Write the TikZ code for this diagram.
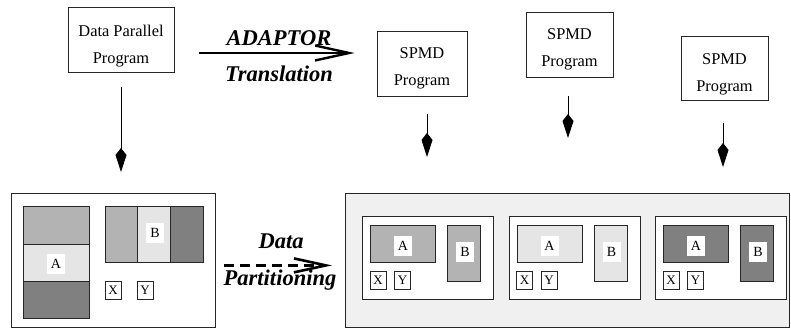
\documentclass[tikz,border=0pt]{standalone}
\usepackage{fontspec}
\setmainfont{Liberation Serif}
\usetikzlibrary{arrows.meta,calc}
\definecolor{midg}{HTML}{B3B3B3}
\definecolor{lightg}{HTML}{E5E5E5}
\definecolor{darkg}{HTML}{808080}
\definecolor{bgg}{HTML}{F0F0F0}
\begin{document}
\begin{tikzpicture}[x=1pt,y=-1pt,
  box/.style={draw=black!85, line width=0.8pt, inner sep=0pt},
  prog/.style={box, fill=white},
  ptext/.style={align=center, inner sep=0pt, anchor=north, font=\fontsize{16.4}{27}\selectfont},
  lbl/.style={fill=white, inner sep=0pt, minimum width=18, minimum height=20, font=\fontsize{14}{16}\selectfont},
  xy/.style={box, fill=white, minimum width=16, minimum height=18, font=\fontsize{13}{15}\selectfont},
  big/.style={font=\fontsize{22.5}{26}\selectfont\bfseries\itshape, inner sep=0pt, anchor=base},
  darr/.style={line width=0.9pt, -{Kite[length=24pt,width=11pt,inset=7pt]}},
  barb/.style={line width=2.4pt, -{Straight Barb[length=34pt,width=15pt,line width=2.4pt]}},
  dbarb/.style={line width=2.6pt, dash pattern=on 10pt off 6pt, -{Straight Barb[length=32pt,width=14pt,line width=2.6pt]}},
]
\useasboundingbox (0,0) rectangle (791,328);

% top program boxes
\node[prog, minimum width=106, minimum height=65] (dp) at (121,39.5) {};
\node[ptext] (dpt) at (121,24.5) {Data Parallel\\Program};
\node[prog, minimum width=90, minimum height=65] (s1) at (422,63.5) {};
\node[ptext] (s1t) at (422,47.2) {SPMD\\Program};
\node[prog, minimum width=87, minimum height=65] (s2) at (569.5,44.5) {};
\node[ptext] (s2t) at (569.5,28.2) {SPMD\\Program};
\node[prog, minimum width=87, minimum height=64] (s3) at (724.5,68) {};
\node[ptext] (s3t) at (724.5,53.2) {SPMD\\Program};

% left box
\node[box, fill=white, anchor=north west, minimum width=204, minimum height=134] (L) at (11,193) {};
\node[box, fill=midg, anchor=north west, minimum width=66, minimum height=38] (la1) at (23,206) {};
\node[box, fill=lightg, anchor=north west, minimum width=66, minimum height=37] (la2) at (23,244) {};
\node[box, fill=darkg, anchor=north west, minimum width=66, minimum height=37] (la3) at (23,281) {};
\node[lbl] (lal) at (56,264) {A};
\node[box, fill=midg, anchor=north west, minimum width=32, minimum height=56] (lb1) at (105,206) {};
\node[box, fill=lightg, anchor=north west, minimum width=33, minimum height=56] (lb2) at (137,206) {};
\node[box, fill=darkg, anchor=north west, minimum width=33, minimum height=56] (lb3) at (170,206) {};
\node[lbl] (lbl) at (155,233) {B};
\node[xy] (lx) at (113,290.5) {X};
\node[xy] (ly) at (145,290.5) {Y};

% right box
\node[box, fill=bgg, anchor=north west, minimum width=444, minimum height=134] (R) at (345,193) {};
\foreach \k/\c in {0/midg,1/lightg,2/darkg} {
  \pgfmathsetmacro\xo{362+146.5*\k}
  \node[box, fill=white, anchor=north west, minimum width=131, minimum height=83] (sub\k) at (\xo,216) {};
  \node[box, fill=\c, anchor=north west, minimum width=65, minimum height=37] (sa\k) at (\xo+8,225) {};
  \node[box, fill=\c, anchor=north west, minimum width=33, minimum height=56] (sb\k) at (\xo+85,225) {};
  \node[lbl] (sal\k) at (\xo+41,246) {A};
  \node[lbl] (sbl\k) at (\xo+103,252) {B};
  \node[xy] (sx\k) at (\xo+16,280.5) {X};
  \node[xy] (sy\k) at (\xo+40.5,280.5) {Y};
}

% arrows
\draw[barb, shorten <=25pt, shorten >=22pt] ([yshift=-13.5pt]dp.east) -- ([yshift=-13.5pt]dp.east -| s1.west);
\node[big] (t1) at (279,46) {ADAPTOR};
\node[big] (t2) at (279,82) {Translation};

\draw[dbarb, shorten <=8pt, shorten >=13pt] ([yshift=-5pt]L.east) -- ([yshift=-5pt]L.east -| R.west);
\node[big] (t3) at (281,248) {Data};
\node[big] (t4) at (280,285) {Partitioning};

\draw[darr, shorten <=15pt, shorten >=21pt] (dp.south) -- (dp.south |- L.north);
\draw[darr, shorten <=18pt, shorten >=36pt] ([xshift=5pt]s1.south) -- ([xshift=5pt]s1.south |- R.north);
\draw[darr, shorten <=19pt, shorten >=55pt] ([xshift=-1.5pt]s2.south) -- ([xshift=-1.5pt]s2.south |- R.north);
\draw[darr, shorten <=23pt, shorten >=26pt] ([xshift=-1.5pt]s3.south) -- ([xshift=-1.5pt]s3.south |- R.north);
\end{tikzpicture}
\end{document}
